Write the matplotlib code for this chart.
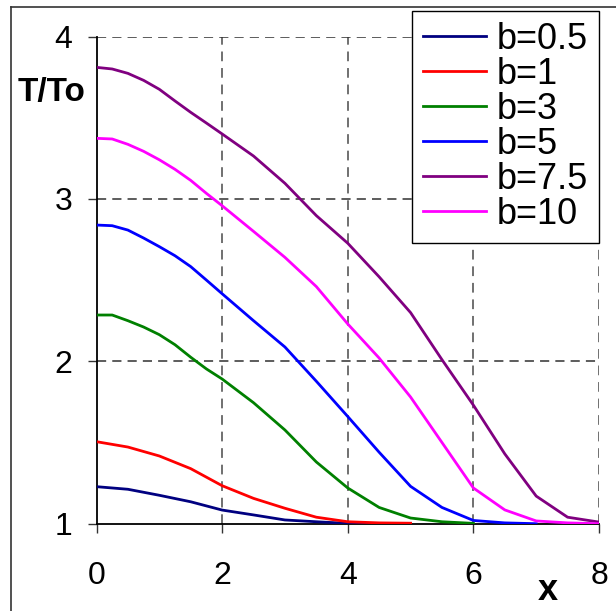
import matplotlib
matplotlib.use("Agg")
import matplotlib.pyplot as plt
from matplotlib.lines import Line2D

plt.rcParams['font.family'] = ['Liberation Sans', 'DejaVu Sans']

x_fine = [0, 0.25, 0.5, 0.75, 1, 1.25, 1.5, 1.75, 2, 2.5, 3, 3.5, 4, 4.5, 5, 5.5, 6, 6.5, 7, 7.5, 8]
x_half = [0, 0.5, 1, 1.5, 2, 2.5, 3, 3.5, 4, 4.5, 5, 5.5, 6, 6.5, 7, 7.5, 8]

b05 = [1.228, 1.212, 1.175, 1.135, 1.084, 1.054, 1.023, 1.012, 1.002, 1.0]
b1 = [1.505, 1.472, 1.417, 1.339, 1.234, 1.156, 1.095, 1.04, 1.012, 1.005, 1.003]
b3 = [2.285, 2.285, 2.25, 2.211, 2.164, 2.102, 2.025, 1.953, 1.891,
      1.745, 1.577, 1.38, 1.22, 1.10, 1.035, 1.012, 1.002]
b5 = [2.839, 2.835, 2.808, 2.759, 2.706, 2.65, 2.583, 2.50, 2.416,
      2.25, 2.088, 1.877, 1.66, 1.44, 1.23, 1.10, 1.02, 1.005, 1.0]
b75 = [3.81, 3.80, 3.773, 3.73, 3.675, 3.603, 3.533, 3.467, 3.40,
       3.264, 3.096, 2.897, 2.727, 2.52, 2.30, 2.01, 1.73, 1.43, 1.17, 1.04, 1.01]
b10 = [3.373, 3.369, 3.336, 3.293, 3.241, 3.182, 3.114, 3.034, 2.958,
       2.80, 2.64, 2.46, 2.23, 2.02, 1.78, 1.50, 1.22, 1.085, 1.017, 1.005, 1.0]

series = [
    ("b=0.5", x_half, b05, "#000080"),
    ("b=1", x_half, b1, "#FF0000"),
    ("b=3", x_fine, b3, "#008000"),
    ("b=5", x_fine, b5, "#0000FF"),
    ("b=7.5", x_fine, b75, "#800080"),
    ("b=10", x_fine, b10, "#FF00FF"),
]

W, H = 616, 611
fig = plt.figure(figsize=(W / 100, H / 100), dpi=100)
ax = fig.add_axes([96.5 / W, 1 - 523.7 / H, (599 - 96.5) / W, (523.7 - 36.5) / H])

handles = []
for label, xs, vals, color in series:
    h, = ax.plot(xs[:len(vals)], vals, color=color, lw=2.0, label=label, zorder=3)
    handles.append(h)

ax.set_xlim(0, 8)
ax.set_ylim(1, 4)
ax.set_xticks([0, 2, 4, 6, 8])
ax.set_yticks([1, 2, 3, 4])

for xv in [2, 4, 6, 8]:
    ax.axvline(xv, color='#707070', lw=1.4, ls=(0, (5, 3.5)), zorder=1)
for yv in [2, 3, 4]:
    ax.axhline(yv, color='#303030', lw=1.1, ls=(0, (6, 4)), zorder=1)

for s in ['top', 'right']:
    ax.spines[s].set_visible(False)
for s in ['left', 'bottom']:
    ax.spines[s].set_color('black')
    ax.spines[s].set_linewidth(1.3)

ax.tick_params(axis='both', direction='out', length=6.5, width=1.0,
               colors='#333333', labelcolor='black', labelsize=23)
ax.tick_params(axis='y', pad=11)
ax.tick_params(axis='x', pad=20)

fig.text(18 / W, 1 - 93 / H, "T/To", fontsize=24, fontweight='bold',
         ha='left', va='center')
fig.text(548 / W, 1 - 590 / H, "x", fontsize=26, fontweight='bold',
         ha='center', va='center')

leg = fig.legend(handles=handles, loc='upper left',
                 bbox_to_anchor=(412 / W, 1 - 11 / H), borderaxespad=0,
                 fontsize=26, frameon=True, fancybox=False, edgecolor='black',
                 framealpha=1, labelspacing=0.0, handlelength=1.75,
                 handletextpad=0.3, borderpad=0.3)
leg.get_frame().set_linewidth(1.0)

fig.add_artist(Line2D([10.5 / W, 10.5 / W], [0, 1 - 7 / H], color='#333333',
                      lw=1.2, transform=fig.transFigure))
fig.add_artist(Line2D([10.5 / W, 1], [1 - 7 / H, 1 - 7 / H], color='#333333',
                      lw=1.2, transform=fig.transFigure))

fig.savefig("out.png", dpi=100, facecolor='white')
